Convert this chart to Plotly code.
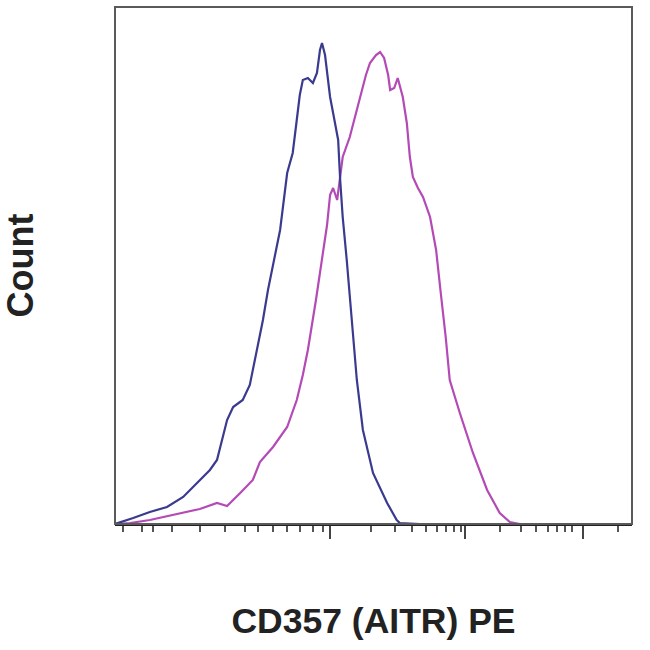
import plotly.graph_objects as go

# Display channel (0-1024 on a biexponential-style scale) and event counts
blue_x = [0, 20, 36, 69, 103, 135, 168, 188, 202, 208, 222, 234, 253, 267, 281, 293, 303, 317, 327,
          341, 352, 360, 366, 372, 382, 392, 400, 406, 410, 416, 422, 426, 432, 442, 446, 451, 459,
          465, 471, 479, 491, 511, 539, 558, 564, 604, 1024]
blue_y = [0, 0.6, 1.2, 2.4, 3.4, 5.4, 8.8, 10.8, 12.8, 15.4, 20.8, 23.4, 24.8, 27.8, 34.8, 40.8, 46.8,
          53.8, 58.8, 70.2, 74.2, 80.8, 85.8, 88.8, 89.2, 88.2, 90.2, 94.8, 96.2, 93.8, 88.8, 85.4,
          82.2, 76.8, 68.8, 61.4, 52.8, 45.8, 38.8, 28.8, 18.8, 10.2, 4.2, 0.8, 0.2, 0, 0]

mag_x = [0, 30, 69, 135, 168, 202, 222, 248, 273, 287, 313, 341, 360, 372, 382, 398, 412, 420, 426,
         432, 440, 446, 451, 465, 481, 489, 497, 505, 517, 525, 533, 541, 545, 553, 560, 570, 578,
         584, 590, 600, 610, 624, 636, 645, 655, 663, 683, 709, 737, 762, 782, 802, 1024]
mag_y = [0, 0.2, 0.8, 2.2, 3.0, 4.2, 3.6, 6.2, 8.8, 12.4, 15.4, 19.4, 24.8, 29.8, 34.8, 44.8, 54.8,
         59.8, 65.8, 67.2, 64.8, 69.8, 73.4, 77.4, 83.4, 86.8, 89.8, 92.2, 93.8, 94.4, 93.2, 89.8,
         86.8, 87.2, 89.2, 85.4, 80.2, 73.4, 69.4, 67.2, 65.4, 61.4, 54.8, 46.4, 37.4, 28.8, 22.2,
         14.2, 6.8, 2.2, 0.4, 0, 0]

major_ticks = [426, 693, 927]
minor_ticks = [16, 53, 75, 113, 168, 218, 257, 283, 313, 341, 366, 392, 412,
               507, 555, 588, 616, 638, 656, 671, 685,
               763, 804, 834, 858, 876, 891, 905, 996]

x_title = "CD357 (AITR) PE"
y_title = "Count"

fig = go.Figure()
fig.add_trace(go.Scatter(x=mag_x, y=mag_y, mode="lines",
                         line=dict(color="#b44ab6", width=2.2), hoverinfo="skip"))
fig.add_trace(go.Scatter(x=blue_x, y=blue_y, mode="lines",
                         line=dict(color="#3a3a8e", width=2.2), hoverinfo="skip"))

fig.update_layout(
    width=650, height=650,
    margin=dict(l=115, r=18, t=7, b=126),
    paper_bgcolor="white", plot_bgcolor="white",
    showlegend=False,
    font=dict(family="Liberation Sans", color="#222"),
    shapes=[dict(type="rect", xref="paper", yref="paper", x0=0, y0=0, x1=1, y1=1,
                 line=dict(color="#5a5a5a", width=2), layer="above")],
)
fig.update_xaxes(
    range=[0, 1024], showgrid=False, zeroline=False,
    showline=True, linecolor="#222", linewidth=2,
    tickmode="array", tickvals=major_ticks, ticktext=["" for _ in major_ticks],
    ticks="outside", ticklen=13, tickwidth=2, tickcolor="#444",
    showticklabels=False,
    minor=dict(tickmode="array", tickvals=minor_ticks, ticks="outside",
               ticklen=6, tickwidth=2, tickcolor="#555", showgrid=False),
    title=dict(text=x_title, font=dict(size=35.5, family="Liberation Sans", weight="bold", color="#222"),
               standoff=70),
)
fig.update_yaxes(
    range=[0, 103.4], showgrid=False, zeroline=False, showline=False,
    showticklabels=False, ticks="",
    title=dict(text=y_title, font=dict(size=36, family="Liberation Sans", weight="bold", color="#222"),
               standoff=78),
)

fig.write_html("out.html", config={"displayModeBar": False},
               post_script="document.body.style.margin='0';document.body.style.overflow='hidden';")
